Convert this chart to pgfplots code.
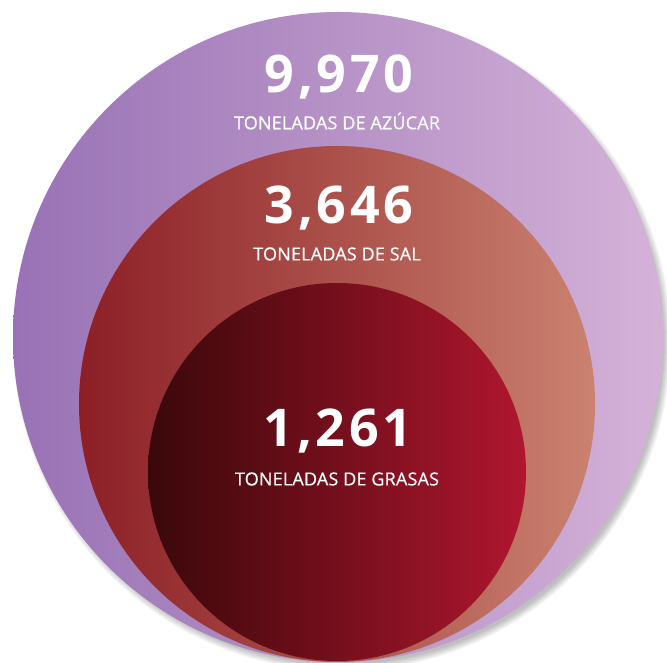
\documentclass[border=0pt]{standalone}
\usepackage{pgfplots}
\pgfplotsset{compat=1.18}
\usepackage{pgfplotstable}
\usepackage{fontspec}
\setmainfont{Open Sans}
\newfontfamily\numfont[LetterSpace=7]{Open Sans}
\newfontfamily\labfont[FakeBold=0.6,LetterSpace=1]{Open Sans}
\definecolor{pL}{HTML}{9872B5}
\definecolor{pR}{HTML}{D4B2D8}
\definecolor{rL}{HTML}{8C1F26}
\definecolor{rR}{HTML}{CB8270}
\definecolor{iL}{HTML}{3A080A}
\definecolor{iM}{HTML}{850C10}
\definecolor{iR}{HTML}{B0162F}
\pgfplotstableread{
x y r value
338 337 325 9970
}\outer
\pgfplotstableread{
x y r value
337 404 258 3646
}\middle
\pgfplotstableread{
x y r value
337 472 189 1261
}\inner
\begin{document}
\begin{tikzpicture}
\begin{axis}[
  x=1pt, y=1pt, y dir=reverse,
  xmin=0, xmax=667, ymin=0, ymax=663,
  hide axis, clip=true, set layers=standard,
  every axis plot/.append style={only marks, mark=*, mark size=0.001pt, scatter,
    visualization depends on={\thisrow{r}\as\rad}},
]
% shadow
\addplot[scatter/@pre marker code/.code={%
   \foreach \k in {0,1,...,7}{\fill[black,draw=none,opacity=0.035] (4pt,-5pt) circle[radius=\rad pt + 4pt - \k pt];}},
   scatter/@post marker code/.code={}] table[x=x,y=y] {\outer};
\addplot[scatter/@pre marker code/.code={%
   \shade[draw=none,left color=pL,right color=pR] (0,0) circle[radius=\rad pt];},
   scatter/@post marker code/.code={}] table[x=x,y=y] {\outer};
\addplot[scatter/@pre marker code/.code={%
   \shade[draw=none,left color=rL,right color=rR] (0,0) circle[radius=\rad pt];},
   scatter/@post marker code/.code={}] table[x=x,y=y] {\middle};
\addplot[scatter/@pre marker code/.code={%
   \shade[draw=none,left color=iL,middle color=iM,right color=iR] (0,0) circle[radius=\rad pt];},
   scatter/@post marker code/.code={}] table[x=x,y=y] {\inner};
\begin{pgfonlayer}{axis foreground}
\node[text=white, font=\numfont\fontsize{52}{52}\selectfont\bfseries] at (axis cs:339,77) {9,970};
\node[text=white, font=\labfont\fontsize{18}{18}\selectfont] at (axis cs:337,121) {TONELADAS DE AZÚCAR};
\node[text=white, font=\numfont\fontsize{52}{52}\selectfont\bfseries] at (axis cs:339,208) {3,646};
\node[text=white, font=\labfont\fontsize{18}{18}\selectfont] at (axis cs:337,254) {TONELADAS DE SAL};
\node[text=white, font=\numfont\fontsize{52}{52}\selectfont\bfseries] at (axis cs:338,431) {1,261};
\node[text=white, font=\labfont\fontsize{18}{18}\selectfont] at (axis cs:337,479) {TONELADAS DE GRASAS};
\end{pgfonlayer}
\end{axis}
\pgfresetboundingbox
\path[use as bounding box] (current axis.south west) rectangle (current axis.north east);
\end{tikzpicture}
\end{document}
